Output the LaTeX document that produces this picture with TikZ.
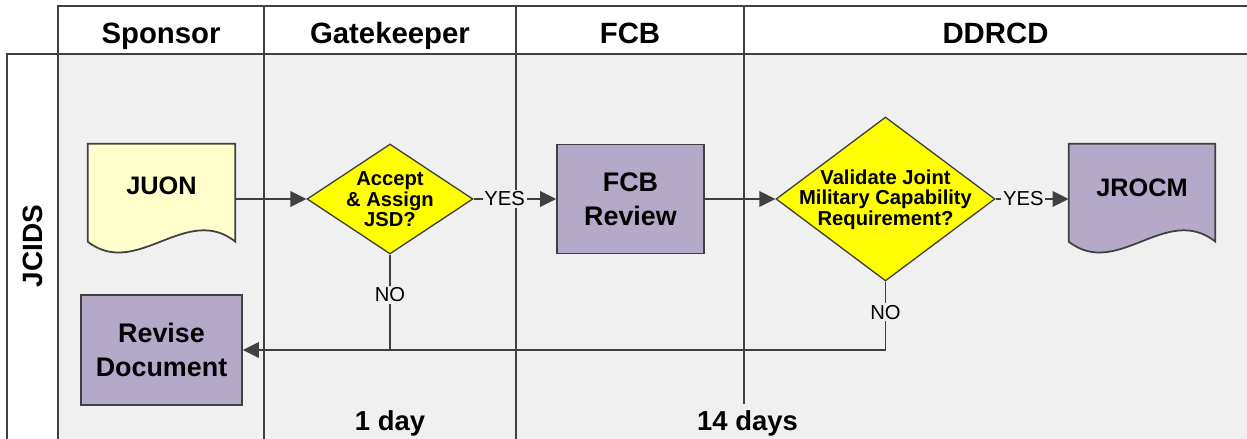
\documentclass[tikz,border=0pt]{standalone}
\usepackage{fontspec}
\setmainfont{Liberation Sans}
\usetikzlibrary{shapes.geometric,arrows.meta,calc}

\definecolor{lanegray}{HTML}{F0F0F0}
\definecolor{edgegray}{HTML}{404040}
\definecolor{procpurple}{RGB}{180,169,201}
\definecolor{docyellow}{HTML}{FFFFCC}
\definecolor{decyellow}{HTML}{FFFF00}

\tikzset{
  laneline/.style={draw=edgegray, line width=1.1pt},
  conn/.style={draw=edgegray, line width=1.1pt},
  arr/.style={conn, -{Triangle[length=0.32cm,width=0.31cm]}},
  proc/.style={rectangle, draw=edgegray, fill=procpurple, line width=1pt,
    inner sep=0pt, align=center,
    font=\fontsize{15.3}{19.2}\selectfont\bfseries},
  docframe/.style={rectangle, inner sep=0pt},
  docline/.style={draw=edgegray, line width=1pt},
  doctext/.style={inner sep=0pt, font=\fontsize{14.4}{17}\selectfont\bfseries},
  dec/.style={diamond, draw=edgegray, fill=decyellow, line width=0.75pt,
    inner sep=0pt},
  dectext/.style={inner sep=0pt, align=center,
    font=\fontsize{11.5}{11.7}\selectfont\bfseries},
  flag/.style={fill=lanegray, inner sep=1pt,
    font=\fontsize{11.5}{13}\selectfont},
  head/.style={anchor=base, inner sep=0pt,
    font=\fontsize{16.7}{20}\selectfont\bfseries},
  timing/.style={anchor=base, inner sep=0pt,
    font=\fontsize{15.6}{19}\selectfont\bfseries},
}

% document symbol: flat top, wavy bottom edge
\newcommand\docshape[2]{%
  \path[docline, fill=#2]
    (#1.north west) -- (#1.north east) -- ($(#1.north east)+(0,98)$)
    .. controls ($(#1.north east)+(-49,59)$) and ($(#1.north west)+(49,136)$)
    .. ($(#1.north west)+(0,98)$) -- cycle;}

\begin{document}
\begin{tikzpicture}[x=0.02cm, y=-0.02cm]
  \useasboundingbox (0,0) rectangle (1247,439);
  \clip (0,0) rectangle (1247,439);

  % swimlane frame
  \path[laneline, fill=white] (58,6) rectangle (1262,54);
  \path[laneline, fill=lanegray] (58,54) rectangle (1262,452);
  \path[laneline, fill=white] (7,54) rectangle (58,452);
  \draw[laneline] (264,6) -- (264,452);
  \draw[laneline] (516,6) -- (516,452);
  \draw[laneline] (744,6) -- (744,404);

  % lane titles
  \node[head] (hsponsor) at (161,44) {Sponsor};
  \node[head] (hgate) at (390,44) {Gatekeeper};
  \node[head] (hfcb) at (630,44) {FCB};
  \node[head] (hddrcd) at (995.5,44) {DDRCD};
  \node[rotate=90, inner sep=0pt, font=\fontsize{15.9}{19}\selectfont\bfseries]
    (hjcids) at (33,246) {JCIDS};

  % flow elements
  \node[docframe, minimum width=2.94cm, minimum height=2.2cm] (juon) at (161.5,199) {};
  \docshape{juon}{docyellow}
  \node[doctext] (juontxt) at (161.5,185.5) {JUON};

  \node[dec, minimum width=3.32cm, minimum height=2.2cm] (d1) at (390,199) {};
  \node[dectext] (d1txt) at (390,199.5) {Accept\\\& Assign\\JSD?};

  \node[proc, minimum width=2.94cm, minimum height=2.18cm] (fcb) at (630.5,199) {FCB\\Review};

  \node[dec, minimum width=4.38cm, minimum height=3.28cm] (d2) at (885.5,199) {};
  \node[dectext] (d2txt) at (885.5,199.5) {Validate Joint\\Military Capability\\Requirement?};

  \node[docframe, minimum width=2.92cm, minimum height=2.2cm] (jrocm) at (1142,199) {};
  \docshape{jrocm}{procpurple}
  \node[doctext] (jrocmtxt) at (1142,187.5) {JROCM};

  \node[proc, minimum width=3.22cm, minimum height=2.2cm] (revise) at (161.5,350) {Revise\\Document};

  % connectors
  \draw[arr] (juon.east) -- (d1.west);
  \draw[arr] (d1.east) -- node[flag, pos=0.375] (yes1) {YES} (fcb.west);
  \draw[arr] (fcb.east) -- (d2.west);
  \draw[arr] (d2.east) -- node[flag, pos=0.38] (yes2) {YES} (jrocm.west);
  \draw[conn] (d1.south) -- node[flag, pos=0.42] (no1) {NO} (d1.south |- revise.east);
  \draw[arr] (d2.south) |- node[flag, pos=0.225] (no2) {NO} (revise.east);

  % durations
  \node[timing] (t1) at (390,430.7) {1 day};
  \node[timing] (t2) at (747.5,430.7) {14 days};
\end{tikzpicture}
\end{document}
